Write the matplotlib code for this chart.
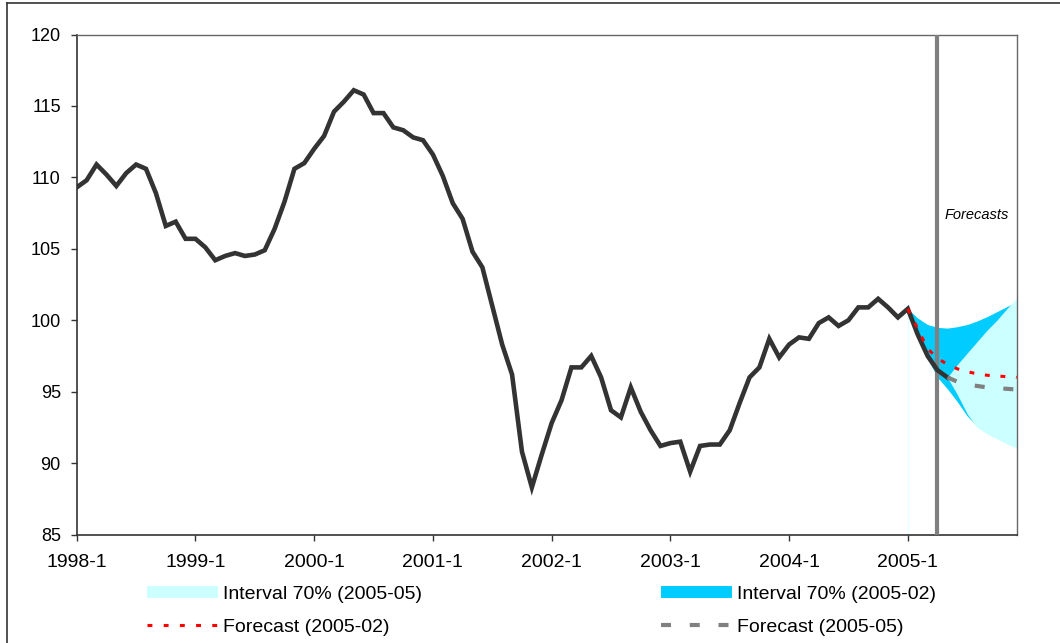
import matplotlib
matplotlib.use('Agg')
import matplotlib.pyplot as plt
from matplotlib.lines import Line2D
from matplotlib.patches import Patch

plt.rcParams['font.family'] = ['Liberation Sans', 'DejaVu Sans']

# monthly index, 1998-1 .. 2005-5 (actual) + forecasts up to 2005-12
actual = [109.3, 109.8, 110.9, 110.2, 109.4, 110.3, 110.9, 110.6, 108.9, 106.6, 106.9, 105.7,
          105.7, 105.1, 104.2, 104.5, 104.7, 104.5, 104.6, 104.9, 106.4, 108.3, 110.6, 111.0,
          112.0, 112.9, 114.6, 115.3, 116.1, 115.8, 114.5, 114.5, 113.5, 113.3, 112.8, 112.6,
          111.6, 110.1, 108.2, 107.1, 104.8, 103.7, 101.0, 98.3, 96.2, 90.8, 88.3, 90.6,
          92.8, 94.4, 96.7, 96.7, 97.5, 96.0, 93.7, 93.2, 95.3, 93.6, 92.3, 91.2,
          91.4, 91.5, 89.4, 91.2, 91.3, 91.3, 92.3, 94.2, 96.0, 96.7, 98.7, 97.4,
          98.3, 98.8, 98.7, 99.8, 100.2, 99.6, 100.0, 100.9, 100.9, 101.5, 100.9, 100.2,
          100.8, 99.0, 97.5, 96.5, 96.0]

# forecast made 2005-02 (months 2005-1 .. 2005-12)
fc02 = [100.8, 99.4, 98.0, 97.35, 96.9, 96.6, 96.4, 96.25, 96.15, 96.1, 96.05, 96.0]
fc02_hi = [100.8, 100.15, 99.7, 99.5, 99.45, 99.55, 99.7, 99.95, 100.25, 100.6, 100.95, 101.3]
fc02_lo = [100.8, 98.8, 97.3, 96.0, 95.2, 94.3, 93.3, 92.6, 92.3, 92.1, 91.95, 91.8]

# forecast made 2005-05 (months 2005-5 .. 2005-12)
fc05 = [96.0, 95.7, 95.5, 95.4, 95.3, 95.25, 95.2, 95.15]
fc05_hi = [96.0, 96.9, 97.7, 98.5, 99.3, 100.0, 100.8, 101.55]
fc05_lo = [96.0, 94.8, 93.45, 92.5, 92.05, 91.7, 91.35, 91.05]

years = ['1998-1', '1999-1', '2000-1', '2001-1', '2002-1', '2003-1', '2004-1', '2005-1']

x_act = list(range(len(actual)))
x02 = list(range(84, 84 + len(fc02)))
x05 = list(range(88, 88 + len(fc05)))
split = 87  # 2005-4, start of forecast period

red_dash = (1.6, 3.5)
gray_dash = (2.4, 4.5)

fig = plt.figure(figsize=(10.6, 6.43), dpi=100)
ax = fig.add_axes([0.0724, 0.1687, 0.8867, 0.7776])

ax.fill_between(x02, fc02_lo, fc02_hi, color='#00CCFF', lw=0, zorder=1)
ax.fill_between(x05, fc05_lo, fc05_hi, color='#CCFFFF', lw=0, zorder=2)
ax.plot([84, 84], [85, 100.8], color='#E6FFFF', lw=1, zorder=2)
ax.axvline(split, color='#808080', lw=3, zorder=3)
ax.plot(x_act, actual, color='#333333', lw=3.3, solid_joinstyle='miter', zorder=4)
ax.plot(x02, fc02, color='#FF0000', lw=2.2, dashes=red_dash, zorder=5)
ax.plot(x05, fc05, color='#808080', lw=3, dashes=gray_dash, zorder=5)

ax.text(91, 107.35, 'Forecasts', fontsize=10.5, style='italic', ha='center', va='center')

ax.set_xlim(0, 95)
ax.set_ylim(85, 120)
ax.set_yticks(range(85, 121, 5))
ax.set_xticks(range(0, 85, 12))
ax.set_xticklabels(years)
ax.tick_params(axis='x', direction='out', length=4, width=1, labelsize=14, pad=10, color='#333333')
ax.tick_params(axis='y', direction='out', length=4, width=1, labelsize=13, pad=7.5, color='#333333')
for s in ['left', 'bottom']:
    ax.spines[s].set_color('#333333')
    ax.spines[s].set_linewidth(1.2)
for s in ['top', 'right']:
    ax.spines[s].set_color('#666666')
    ax.spines[s].set_linewidth(1)

handles = [
    Patch(facecolor='#CCFFFF', edgecolor='none'),
    Line2D([], [], color='#FF0000', lw=2.2, dashes=(1.6, 3.7)),
    Patch(facecolor='#00CCFF', edgecolor='none'),
    Line2D([], [], color='#808080', lw=3, dashes=gray_dash),
]
labels = ['Interval 70% (2005-05)', 'Forecast (2005-02)',
          'Interval 70% (2005-02)', 'Forecast (2005-05)']
fig.legend(handles, labels, ncol=2, loc='upper left', bbox_to_anchor=(147 / 1060, 1 - 586 / 643),
           frameon=False, fontsize=14, handlelength=3.66, handleheight=0.6,
           handletextpad=0.25, columnspacing=12.3, labelspacing=0.8, borderpad=0, borderaxespad=0)

# outer chart frame (left and top edges visible in the crop)
fig.add_artist(Line2D([6.5 / 1060, 6.5 / 1060], [0, 1 - 2.5 / 643], transform=fig.transFigure,
                      color='#333333', lw=1.2))
fig.add_artist(Line2D([6.5 / 1060, 1], [1 - 2.5 / 643, 1 - 2.5 / 643], transform=fig.transFigure,
                      color='#333333', lw=1.2))

fig.savefig('out.png', dpi=100)
